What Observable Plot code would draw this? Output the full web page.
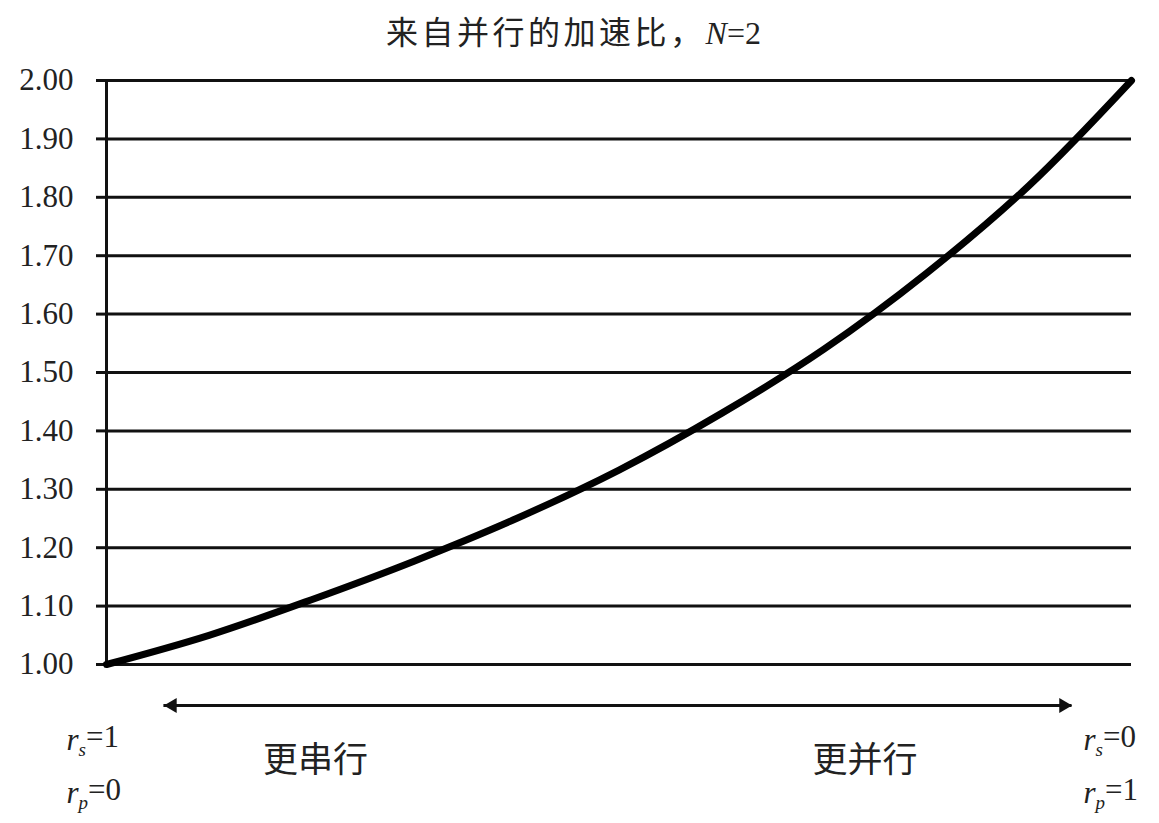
<!DOCTYPE html>
<html>
<head>
<meta charset="utf-8">
<script src="https://cdn.jsdelivr.net/npm/d3@7"></script>
<script src="https://cdn.jsdelivr.net/npm/@observablehq/plot@0.6"></script>
<style>
  html, body { margin: 0; padding: 0; background: #fff; }
  #title {
    width: 1159px; height: 60px; box-sizing: border-box;
    text-align: center; padding-right: 12px;
    font-family: "Noto Sans CJK SC", sans-serif; font-size: 32px;
    letter-spacing: 3.5px; line-height: 60px; color: #222;
  }
  #title i, #title .n { font-family: "Liberation Serif", serif; letter-spacing: 0; }
</style>
</head>
<body>
<div id="title">来自并行的加速比，<i>N</i><span class="n">=2</span></div>
<div id="chart"></div>
<script>
// Parallel fraction r_p (x) and speedup (y)
const rpValues      = [0.00, 0.10, 0.20, 0.30, 0.40, 0.50, 0.60, 0.70, 0.80, 0.90, 1.00];
const speedupValues = [1.00, 1.05, 1.111, 1.177, 1.25, 1.333, 1.43, 1.54, 1.67, 1.82, 2.00];
const yTicks        = [1.0, 1.1, 1.2, 1.3, 1.4, 1.5, 1.6, 1.7, 1.8, 1.9, 2.0];
const yTickLabels   = ["1.00","1.10","1.20","1.30","1.40","1.50","1.60","1.70","1.80","1.90","2.00"];
const leftLabels    = ["r|s|=1", "r|p|=0"];
const rightLabels   = ["r|s|=0", "r|p|=1"];
const directionLabels = ["更串行", "更并行"];
const arrowEnds     = [0.056, 0.942];

const curve = rpValues.map((x, i) => ({x, y: speedupValues[i]}));
const serif = "Liberation Serif";
const cjk = "Noto Sans CJK SC";

const chart = Plot.plot({
  width: 1159,
  height: 763,
  marginLeft: 106,
  marginRight: 28,
  marginTop: 20,
  marginBottom: 159,
  style: {background: "#fff", color: "#222", overflow: "visible"},
  x: {domain: [0, 1], axis: null},
  y: {domain: [1, 2]},
  marks: [
    Plot.ruleY(yTicks, {stroke: "#111", strokeWidth: 3}),
    Plot.ruleX([0], {y1: 1, y2: 2, stroke: "#111", strokeWidth: 3}),
    Plot.axisY({
      ticks: yTicks,
      tickFormat: (d) => yTickLabels[yTicks.findIndex(t => Math.abs(t - d) < 1e-9)],
      tickSize: 10, tickPadding: 23, fontSize: 31, fontFamily: serif,
      stroke: "#111", strokeWidth: 3, fill: "#222", label: null
    }),
    Plot.line(curve, {x: "x", y: "y", stroke: "#000", strokeWidth: 7, curve: "catmull-rom", strokeLinecap: "round", strokeLinejoin: "round"}),
    // double-headed arrow below the axis
    Plot.ruleY([1], {x1: arrowEnds[0], x2: arrowEnds[1], dy: 41, stroke: "#111", strokeWidth: 3}),
    Plot.dot([{x: arrowEnds[0], r: -90}, {x: arrowEnds[1], r: 90}], {
      x: "x", y: () => 1, dy: 41, symbol: "triangle", r: 5.5, rotate: "r",
      fill: "#111", stroke: "none"
    }),
    // direction labels
    Plot.text([{x: 0.204, t: directionLabels[0]}, {x: 0.74, t: directionLabels[1]}], {
      x: "x", y: () => 1, dy: 96, text: "t", fontFamily: cjk, fontSize: 35, fill: "#222"
    }),
    // endpoint labels
    Plot.text(leftLabels, {x: () => 0, y: () => 1, text: d => d, fontFamily: serif, fontSize: 31, textAnchor: "start", dx: -40, fill: "#222"}),
    Plot.text(rightLabels, {x: () => 1, y: () => 1, text: d => d, fontFamily: serif, fontSize: 31, textAnchor: "start", dx: -48, fill: "#222"})
  ]
});

const svg = d3.select(chart);
// shift arrowheads so their tips sit at the arrow ends
svg.selectAll("g[aria-label='dot'] path").each(function(d, i) {
  const el = d3.select(this);
  const t = el.attr("transform") || "";
  const off = i === 0 ? 8.5 : -8.5;
  el.attr("transform", t.replace(/translate\(([-\d.]+),([-\d.]+)\)/, (m, a, b) => `translate(${+a + off},${b})`));
});
// fonts and subscripts
svg.selectAll("text").each(function() {
  const el = d3.select(this);
  const s = el.text();
  if (/[\u4e00-\u9fff]/.test(s)) { el.style("font-family", "'Noto Sans CJK SC', sans-serif"); return; }
  el.style("font-family", "'Liberation Serif', serif");
  if (s.indexOf("|") < 0) return;
  const [base, sub, rest] = s.split("|");
  const lineIdx = sub === "s" ? 0 : 1;
  el.text("");
  el.attr("transform", (el.attr("transform") || "") + ` translate(0,${lineIdx === 0 ? 76 : 129})`);
  el.append("tspan").attr("font-style", "italic").text(base);
  el.append("tspan").attr("font-style", "italic").attr("font-size", "19px").attr("dy", "0.3em").text(sub);
  el.append("tspan").attr("dy", "-0.3em").text(rest);
});
document.getElementById("chart").appendChild(chart);
</script>
</body>
</html>
